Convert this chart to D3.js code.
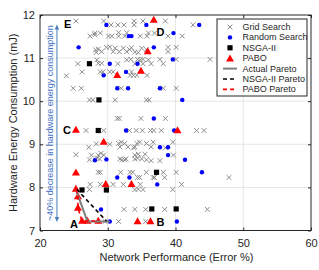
<!DOCTYPE html>
<html>
<head>
<meta charset="utf-8">
<script src="https://d3js.org/d3.v7.min.js"></script>
<style>
body { margin: 0; background: #fff; }
text { font-family: "Liberation Sans", Arial, sans-serif; }
</style>
</head>
<body>
<script>

// values: [error %, energy mJ]
var gridSearch = [
  [25.3,11.86],[29.4,11.86],[33.9,11.86],[35.2,11.86],[38.5,11.86],
  [30.5,11.77],[31.5,11.77],[32.4,11.77],[33.9,11.77],[42.6,11.77],
  [28.1,11.58],[28.9,11.58],[31.6,11.59],[32.8,11.59],[36.0,11.58],[36.9,11.58],
  [27.4,11.51],[28.1,11.54],[30.1,11.51],[30.6,11.51],[31.6,11.51],[32.5,11.51],[34.8,11.51],[35.8,11.51],[38.9,11.51],[41.0,11.51],
  [28.2,11.19],[28.3,11.13],[28.6,11.21],[29.1,11.15],[29.8,11.25],[30.3,11.26],[30.8,11.15],[31.1,11.23],[31.7,11.15],[32.3,11.23],
  [32.8,11.15],[33.2,11.20],[33.5,11.24],[34.0,11.14],[34.5,11.13],[35.0,11.23],[35.7,11.20],[38.9,11.25],[38.9,11.15],[40.1,11.25],
  [25.6,10.87],[28.4,10.96],[28.6,10.88],[29.1,10.88],[31.5,10.87],[32.8,10.96],[33.4,10.97],[34.0,10.87],[34.4,10.97],[34.8,10.96],
  [35.2,10.97],[35.2,10.87],[36.0,10.96],[36.4,10.87],[37.7,10.97],[38.2,10.87],[40.1,10.97],[45.1,10.97],
  [23.9,10.59],[26.2,10.68],[28.9,10.68],[29.3,10.68],[30.3,10.68],[30.8,10.68],[33.3,10.60],[33.8,10.60],[34.3,10.60],[33.5,10.68],[35.8,10.60],
  [24.9,10.30],[26.1,10.30],[32.0,10.30],[38.2,10.30],[40.1,10.30],
  [27.3,10.03],[27.8,10.03],[31.1,10.03],[35.7,10.03],[36.1,10.03],
  [31.4,9.60],[31.7,9.60],[34.9,9.60],[38.5,9.60],
  [26.8,9.32],[29.4,9.32],[33.2,9.32],[34.2,9.32],[35.1,9.32],[36.3,9.32],[36.8,9.32],[37.9,9.32],[43.1,9.32],[44.2,9.32],
  [27.2,8.93],[28.3,9.01],[30.3,9.00],[31.6,9.02],[32.0,9.05],[32.5,9.02],[31.8,8.94],[33.0,8.94],[33.8,8.92],[34.3,9.02],
  [34.7,9.05],[34.0,8.94],[35.7,9.02],[36.4,8.94],[36.7,9.05],[39.6,9.05],[38.5,8.92],
  [25.3,8.76],[27.6,8.75],[28.6,8.75],[29.0,8.79],[29.4,8.75],[34.0,8.75],[34.5,8.77],[35.5,8.77],[39.7,8.75],
  [27.3,8.64],[28.4,8.68],[28.8,8.66],[31.8,8.66],[32.1,8.64],[32.5,8.64],[32.7,8.66],[34.0,8.66],[34.4,8.68],[35.0,8.66],
  [35.7,8.64],[36.4,8.62],[37.7,8.62],
  [28.6,8.35],[28.9,8.35],[31.9,8.35],[33.3,8.35],[33.7,8.35],[35.7,8.35],[38.2,8.35],[40.1,8.35],
  [34.4,8.23],[34.7,8.23],[36.7,8.23],[36.9,8.23],[38.4,8.23],[47.9,8.23],
  [27.4,8.07],[28.9,8.07],[30.8,8.07],[32.3,8.07],[34.8,8.07],[40.9,8.07],
  [27.3,7.95],[34.0,7.95],[34.5,7.96],[35.2,7.95],[39.6,7.95],
  [32.4,7.49],[34.0,7.49],[35.6,7.49],[38.4,7.49],[44.7,7.49],
  [29.6,7.21],[31.6,7.21],[35.6,7.21]
];

var randomSearch = [
  [29.8,11.77],[35.7,11.77],[43.5,11.77],[33.1,11.51],[33.5,11.51],[39.7,11.58],
  [25.7,11.25],[36.8,11.25],[30.3,10.87],[34.4,10.87],[39.6,10.97],
  [29.4,10.60],[32.7,10.68],[31.4,10.30],[33.0,10.30],[37.7,10.30],
  [41.0,10.03],[36.8,9.60],[32.7,9.32],[39.8,9.32],
  [37.7,8.93],[38.9,8.93],[38.9,8.75],[28.1,8.63],[29.8,8.65],[41.4,8.64],
  [31.4,8.23],[33.2,8.23],[43.9,8.35],[37.3,8.07],[29.0,7.49],[30.3,7.21],[40.2,7.21]
];

var nsga2 = [
  [27.3,10.87],[28.7,10.03],[28.6,9.32],[37.2,8.35],[26.2,7.94],[29.8,7.94],[36.5,7.50],[40.1,7.50]
];

var pabo = [
  [36.8,11.88],[35.9,11.15],[34.9,10.70],[31.4,10.60],[25.3,9.33],[40.3,9.32],[29.4,9.05],
  [25.3,8.34],[29.7,8.07],[33.5,8.07],[25.3,7.96],[25.6,7.79],[25.6,7.52],
  [26.2,7.22],[27.0,7.22],[28.6,7.22],[34.4,7.21],[36.3,7.21]
];

var actualPareto = [[25.3,7.95],[27.0,7.21],[30.3,7.21]];
var nsgaPareto = [[25.4,7.96],[29.8,7.22]];
var paboPareto = [[25.3,7.96],[25.6,7.79],[25.6,7.52],[26.2,7.22],[28.6,7.22]];

var xTicks = [20, 30, 40, 50, 60];
var yTicks = [7, 8, 9, 10, 11, 12];

var pointLabels = [
  {t:'E', x:24.1, y:11.79}, {t:'D', x:37.8, y:11.61}, {t:'C', x:24.0, y:9.33},
  {t:'A', x:25.0, y:7.14}, {t:'B', x:37.8, y:7.20}
];

var width = 319, height = 270;

var svg = d3.select('body').append('svg')
  .attr('width', width)
  .attr('height', height);

var x = d3.scaleLinear().domain([20, 60]).range([40, 311]);
var y = d3.scaleLinear().domain([7, 12]).range([230.5, 15]);

var axisColor = '#262626';

// grid
svg.append('g').selectAll('line')
  .data(xTicks.slice(1, -1))
  .enter().append('line')
  .attr('x1', d => x(d)).attr('x2', d => x(d))
  .attr('y1', y(7)).attr('y2', y(12))
  .attr('stroke', '#e6e6e6');
svg.append('g').selectAll('line')
  .data(yTicks.slice(1, -1))
  .enter().append('line')
  .attr('x1', x(20)).attr('x2', x(60))
  .attr('y1', d => y(d)).attr('y2', d => y(d))
  .attr('stroke', '#e6e6e6');

// axes, ticks inside like matlab
function styleAxis(g) {
  g.select('.domain').remove();
  g.selectAll('line').attr('stroke', axisColor);
  g.selectAll('text').attr('fill', axisColor).style('font-size', '11px')
    .style('font-family', '"Liberation Sans", Arial, sans-serif');
}
var fmt = d3.format('d');
svg.append('g').attr('transform', 'translate(0,' + y(7) + ')')
  .call(d3.axisBottom(x).tickValues(xTicks).tickFormat(fmt).tickSize(-3).tickPadding(9)).call(styleAxis);
svg.append('g').attr('transform', 'translate(0,' + y(12) + ')')
  .call(d3.axisTop(x).tickValues(xTicks).tickSize(-3).tickFormat('')).call(styleAxis);
svg.append('g').attr('transform', 'translate(' + x(20) + ',0)')
  .call(d3.axisLeft(y).tickValues(yTicks).tickFormat(fmt).tickSize(-3).tickPadding(5)).call(styleAxis);
svg.append('g').attr('transform', 'translate(' + x(60) + ',0)')
  .call(d3.axisRight(y).tickValues(yTicks).tickSize(-3).tickFormat('')).call(styleAxis);

svg.append('rect')
  .attr('x', x(20)).attr('y', y(12))
  .attr('width', x(60) - x(20)).attr('height', y(7) - y(12))
  .attr('fill', 'none').attr('stroke', axisColor).attr('stroke-width', 1);

// markers
var crossPath = 'M-2.4,-2.4L2.4,2.4M-2.4,2.4L2.4,-2.4';
var triPath = 'M0,-4.3L4,2.7L-4,2.7Z';

svg.append('g').selectAll('path')
  .data(gridSearch).enter().append('path')
  .attr('d', crossPath)
  .attr('transform', d => 'translate(' + x(d[0]) + ',' + y(d[1]) + ')')
  .attr('stroke', '#808080').attr('stroke-width', 0.9).attr('fill', 'none');

svg.append('g').selectAll('circle')
  .data(randomSearch).enter().append('circle')
  .attr('cx', d => x(d[0])).attr('cy', d => y(d[1]))
  .attr('r', 2.2).attr('fill', '#0000ff');

svg.append('g').selectAll('rect')
  .data(nsga2).enter().append('rect')
  .attr('x', d => x(d[0]) - 2.6).attr('y', d => y(d[1]) - 2.6)
  .attr('width', 5.2).attr('height', 5.2).attr('fill', '#000');

svg.append('g').selectAll('path')
  .data(pabo).enter().append('path')
  .attr('d', triPath)
  .attr('transform', d => 'translate(' + x(d[0]) + ',' + y(d[1]) + ')')
  .attr('fill', '#ff0000');

// pareto fronts
var line = d3.line().x(d => x(d[0])).y(d => y(d[1]));
svg.append('path').attr('d', line(actualPareto))
  .attr('fill', 'none').attr('stroke', '#7f7f7f').attr('stroke-width', 2);
svg.append('path').attr('d', line(nsgaPareto))
  .attr('fill', 'none').attr('stroke', '#000').attr('stroke-width', 1.6).attr('stroke-dasharray', '4,3');
svg.append('path').attr('d', line(paboPareto))
  .attr('fill', 'none').attr('stroke', '#ff0000').attr('stroke-width', 1.6).attr('stroke-dasharray', '4,3');

// point labels
svg.append('g').selectAll('text')
  .data(pointLabels).enter().append('text')
  .attr('x', d => x(d.x)).attr('y', d => y(d.y))
  .attr('text-anchor', 'middle').attr('dominant-baseline', 'central')
  .style('font-size', '11px').style('font-weight', 'bold')
  .text(d => d.t);

// blue annotation arrow
var arrowBlue = '#4a7ebb';
var ax = x(22.5), ayTop = y(11.78), ayBot = y(7.2);
svg.append('line').attr('x1', ax).attr('x2', ax).attr('y1', ayTop + 3).attr('y2', ayBot - 3)
  .attr('stroke', arrowBlue).attr('stroke-width', 1);
svg.append('path').attr('d', 'M' + ax + ',' + ayTop + 'l-2.2,5h4.4z').attr('fill', arrowBlue);
svg.append('path').attr('d', 'M' + ax + ',' + ayBot + 'l-2.2,-5h4.4z').attr('fill', arrowBlue);
svg.append('text')
  .attr('transform', 'translate(' + (ax - 4) + ',' + ((ayTop + ayBot) / 2) + ') rotate(-90)')
  .attr('text-anchor', 'middle')
  .attr('fill', '#4472c4')
  .style('font-size', '9px')
  .text('~40% decrease in hardware energy consumption');

// axis titles
svg.append('text')
  .attr('x', (x(20) + x(60)) / 2 + 1).attr('y', 261)
  .attr('text-anchor', 'middle').attr('fill', axisColor)
  .style('font-size', '11px')
  .text('Network Performance (Error %)');
svg.append('text')
  .attr('transform', 'translate(17,' + ((y(7) + y(12)) / 2) + ') rotate(-90)')
  .attr('text-anchor', 'middle').attr('fill', axisColor)
  .style('font-size', '11px')
  .text('Hardware Energy Consumption (mJ)');

// legend
var legendItems = ['Grid Search', 'Random Search', 'NSGA-II', 'PABO', 'Actual Pareto', 'NSGA-II Pareto', 'PABO Pareto'];
var lg = svg.append('g').attr('transform', 'translate(217,19)');
lg.append('rect').attr('width', 90).attr('height', 77)
  .attr('fill', '#fff').attr('stroke', axisColor).attr('stroke-width', 1);
var rows = lg.selectAll('g').data(legendItems).enter().append('g')
  .attr('transform', (d, i) => 'translate(0,' + (8 + i * 10.4) + ')');
rows.append('text').attr('x', 25.5).attr('y', 0)
  .attr('dominant-baseline', 'central').attr('fill', axisColor)
  .style('font-size', '9px').text(d => d);
rows.each(function(d, i) {
  var g = d3.select(this);
  if (i === 0) g.append('path').attr('d', crossPath).attr('transform', 'translate(13,0)')
    .attr('stroke', '#808080').attr('stroke-width', 0.9);
  if (i === 1) g.append('circle').attr('cx', 13).attr('r', 2.2).attr('fill', '#0000ff');
  if (i === 2) g.append('rect').attr('x', 10.4).attr('y', -2.6).attr('width', 5.2).attr('height', 5.2).attr('fill', '#000');
  if (i === 3) g.append('path').attr('d', triPath).attr('transform', 'translate(13,0.5)').attr('fill', '#ff0000');
  if (i === 4) g.append('line').attr('x1', 6).attr('x2', 20).attr('stroke', '#7f7f7f').attr('stroke-width', 2);
  if (i === 5) g.append('line').attr('x1', 6).attr('x2', 20).attr('stroke', '#000').attr('stroke-width', 1.6).attr('stroke-dasharray', '4,3');
  if (i === 6) g.append('line').attr('x1', 6).attr('x2', 20).attr('stroke', '#ff0000').attr('stroke-width', 1.6).attr('stroke-dasharray', '4,3');
});

</script>
</body>
</html>
